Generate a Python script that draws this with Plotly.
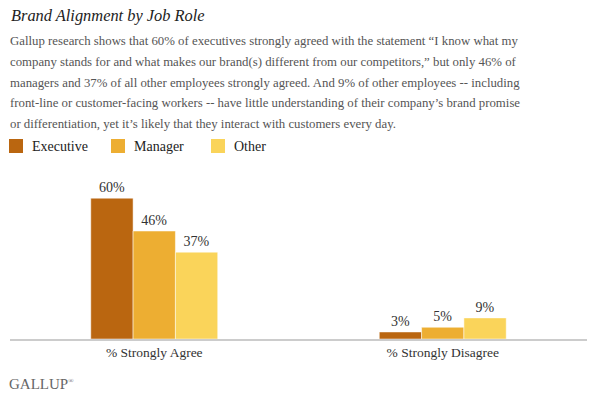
import plotly.graph_objects as go

categories = ["% Strongly Agree", "% Strongly Disagree"]
series_names = ["Executive", "Manager", "Other"]
executive = [60, 3]
manager = [46, 5]
other = [37, 9]
colors = ["#BA6610", "#EDAE32", "#FAD45A"]

title = "Brand Alignment by Job Role"
subtitle_lines = [
    "Gallup research shows that 60% of executives strongly agreed with the statement \u201cI know what my",
    "company stands for and what makes our brand(s) different from our competitors,\u201d but only 46% of",
    "managers and 37% of all other employees strongly agreed. And 9% of other employees -- including",
    "front-line or customer-facing workers -- have little understanding of their company\u2019s brand promise",
    "or differentiation, yet it\u2019s likely that they interact with customers every day.",
]

FONT = "Liberation Serif"
W, H = 593, 398
ML, MR, MT, MB = 10, 6, 170, 59
fig = go.Figure()
for name, vals, col in zip(series_names, [executive, manager, other], colors):
    fig.add_trace(go.Bar(
        x=categories, y=vals, name=name,
        marker=dict(color=col, line=dict(color="white", width=0.5)),
        text=[f"{v}%" for v in vals], textposition="outside",
        textfont=dict(family=FONT, size=14, color="#333333"),
        cliponaxis=False, showlegend=False, hoverinfo="skip",
    ))

fig.update_layout(
    width=W, height=H,
    margin=dict(l=ML, r=MR, t=MT, b=MB),
    paper_bgcolor="white", plot_bgcolor="white",
    barmode="group", bargap=0.56, bargroupgap=0,
    font=dict(family=FONT, color="#333333"),
    showlegend=False,
    xaxis=dict(showline=True, linecolor="#cccccc", linewidth=2, ticks="",
               tickfont=dict(family=FONT, size=13.5, color="#333333"), showgrid=False),
    yaxis=dict(range=[0, 72], visible=False, showgrid=False),
)

plot_h = H - MT - MB
plot_w = W - ML - MR
def py(ypix):
    return (H - MB - ypix) / plot_h
def px(xpix):
    return (xpix - ML) / plot_w

fig.add_annotation(text=f"<i>{title}</i>", xref="paper", yref="paper", x=px(9), y=py(15),
                   showarrow=False, xanchor="left", yanchor="middle",
                   font=dict(family=FONT, size=16.4, color="#222222"))
for i, line in enumerate(subtitle_lines):
    fig.add_annotation(text=line, xref="paper", yref="paper", x=px(8), y=py(41 + i * 20.8),
                       showarrow=False, xanchor="left", yanchor="middle",
                       font=dict(family=FONT, size=12.8, color="#555555"))
# legend drawn manually
leg_x = [9, 111, 211]
for name, col, lx in zip(series_names, colors, leg_x):
    fig.add_shape(type="rect", xref="paper", yref="paper",
                  x0=px(lx), x1=px(lx + 14), y0=py(153), y1=py(139),
                  fillcolor=col, line=dict(width=0))
    fig.add_annotation(text=name, xref="paper", yref="paper", x=px(lx + 21), y=py(146),
                       showarrow=False, xanchor="left", yanchor="middle",
                       font=dict(family=FONT, size=14, color="#222222"))
fig.add_annotation(text="GALLUP<sup><span style='font-size:7px'>\u00ae</span></sup>",
                   xref="paper", yref="paper", x=px(7), y=py(384),
                   showarrow=False, xanchor="left", yanchor="middle",
                   font=dict(family=FONT, size=15, color="#666666"))

fig.write_html("out.html", config={"displayModeBar": False},
               post_script="document.body.style.margin='0';")
